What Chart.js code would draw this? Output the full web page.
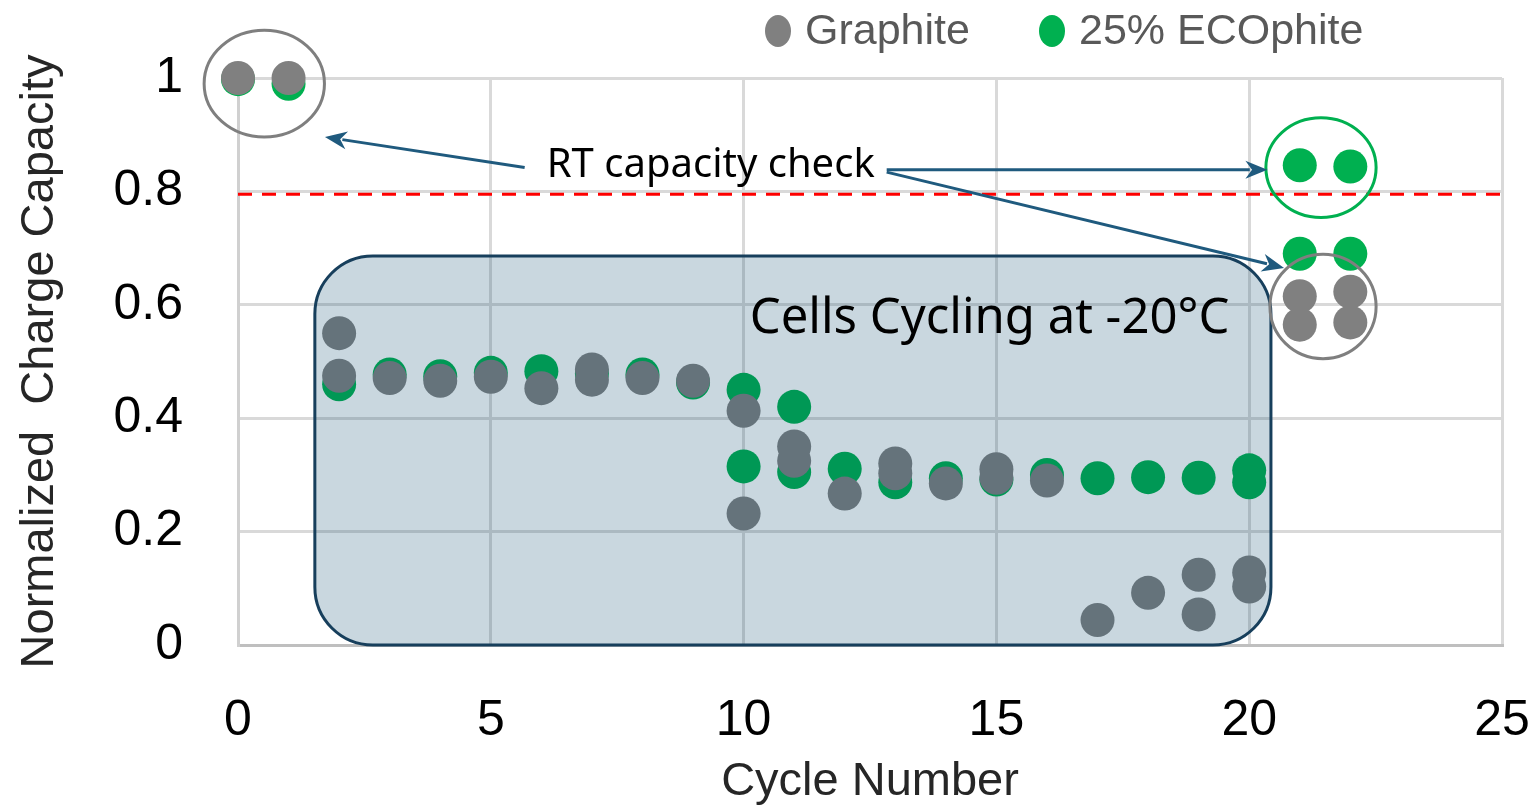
<!DOCTYPE html>
<html>
<head>
<meta charset="utf-8">
<script src="https://cdn.jsdelivr.net/npm/chart.js@4.4.1/dist/chart.umd.min.js"></script>
<style>
  html, body { margin: 0; padding: 0; background: #fff; overflow: hidden; }
  #wrap { width: 1540px; height: 814px; position: relative; }
</style>
</head>
<body>
<div id="wrap"><canvas id="capChart"></canvas></div>
<script>
// cycle number / normalized charge capacity
const graphiteCycle = [0, 1, 2, 2, 3, 4, 5, 6, 7, 7, 8, 9, 10, 10, 11, 11, 12, 13, 13, 14, 15, 15, 16, 17, 18, 19, 19, 20, 20, 21, 21, 22, 22];
const graphiteCap = [1.0, 1.0, 0.55, 0.475, 0.471, 0.466, 0.473, 0.453, 0.486, 0.468, 0.471, 0.466, 0.413, 0.232, 0.35, 0.325, 0.267, 0.32, 0.303, 0.285, 0.31, 0.295, 0.29, 0.044, 0.092, 0.124, 0.054, 0.128, 0.103, 0.615, 0.565, 0.623, 0.569];

const ecoCycle = [0, 1, 2, 3, 4, 5, 6, 7, 8, 9, 10, 10, 11, 11, 12, 13, 14, 15, 16, 17, 18, 19, 20, 20, 21, 21, 22, 22];
const ecoCap = [0.998, 0.99, 0.46, 0.477, 0.474, 0.48, 0.483, 0.479, 0.477, 0.463, 0.45, 0.315, 0.42, 0.305, 0.311, 0.287, 0.294, 0.292, 0.30, 0.294, 0.296, 0.295, 0.308, 0.287, 0.846, 0.69, 0.844, 0.69];

const seriesNames = ['Graphite', '25% ECOphite'];
const limitValue = 0.795;

const toPoints = (xs, ys) => xs.map((c, i) => ({ x: c, y: ys[i] }));

// annotations: red limit line, shaded box, circles, arrows, notes, legend
const annotate = {
    id: 'annotate',
    afterDatasetsDraw(chart) {
        const { ctx, chartArea, scales: { x, y } } = chart;
        const px = v => x.getPixelForValue(v);
        const py = v => y.getPixelForValue(v);
        ctx.save();

        // 80% line
        ctx.strokeStyle = '#ff0000';
        ctx.lineWidth = 3;
        ctx.setLineDash([14, 10]);
        ctx.beginPath();
        ctx.moveTo(chartArea.left, py(limitValue));
        ctx.lineTo(chartArea.right, py(limitValue));
        ctx.stroke();
        ctx.setLineDash([]);

        // cold cycling box
        const bx0 = px(1.52), bx1 = px(20.43), by0 = py(0.686), by1 = py(0);
        ctx.beginPath();
        ctx.roundRect(bx0, by0, bx1 - bx0, by1 - by0, 58);
        ctx.fillStyle = 'rgba(0, 65, 105, 0.21)';
        ctx.fill();
        ctx.strokeStyle = '#173f5c';
        ctx.lineWidth = 3;
        ctx.stroke();

        ctx.fillStyle = '#000';
        ctx.font = '49px "Noto Sans"';
        ctx.textBaseline = 'middle';
        ctx.textAlign = 'left';
        ctx.fillText('Cells Cycling at -20°C', px(10.12), py(0.575));

        // circles
        const ring = (cx, cy, rx, ry, color) => {
            ctx.beginPath();
            ctx.ellipse(px(cx), py(cy), px(cx + rx) - px(cx), py(cy) - py(cy + ry), 0, 0, Math.PI * 2);
            ctx.strokeStyle = color;
            ctx.lineWidth = 3;
            ctx.stroke();
        };
        ring(0.52, 0.99, 1.19, 0.094, '#7f7f7f');
        ring(21.42, 0.842, 1.09, 0.088, '#00b050');
        ring(21.46, 0.597, 1.05, 0.092, '#7f7f7f');

        // arrows
        const arrow = (x0, y0, x1, y1) => {
            const ax = px(x0), ay = py(y0), bx = px(x1), by = py(y1);
            const ang = Math.atan2(by - ay, bx - ax);
            const head = 22, half = 9;
            ctx.strokeStyle = '#1f5a7e';
            ctx.fillStyle = '#1f5a7e';
            ctx.lineWidth = 3;
            ctx.beginPath();
            ctx.moveTo(ax, ay);
            ctx.lineTo(bx - Math.cos(ang) * head * 0.8, by - Math.sin(ang) * head * 0.8);
            ctx.stroke();
            ctx.beginPath();
            ctx.moveTo(bx, by);
            ctx.lineTo(bx - Math.cos(ang) * head - Math.sin(ang) * half, by - Math.sin(ang) * head + Math.cos(ang) * half);
            ctx.lineTo(bx - Math.cos(ang) * head * 0.7, by - Math.sin(ang) * head * 0.7);
            ctx.lineTo(bx - Math.cos(ang) * head + Math.sin(ang) * half, by - Math.sin(ang) * head - Math.cos(ang) * half);
            ctx.closePath();
            ctx.fill();
        };
        arrow(5.67, 0.842, 1.72, 0.896);
        arrow(12.83, 0.838, 20.36, 0.838);
        arrow(12.83, 0.834, 20.69, 0.665);

        ctx.fillStyle = '#000';
        ctx.font = '40px "Noto Sans"';
        ctx.textAlign = 'center';
        ctx.fillText('RT capacity check', px(9.35), py(0.845));

        ctx.restore();
    },
    afterDraw(chart) {
        // legend drawn by hand so it can sit right of centre
        const { ctx } = chart;
        const spots = [778, 1052];
        ctx.save();
        ctx.font = '43px "Liberation Sans"';
        ctx.textBaseline = 'middle';
        ctx.textAlign = 'left';
        chart.data.datasets.forEach((ds, i) => {
            ctx.fillStyle = ds.backgroundColor;
            ctx.beginPath();
            ctx.ellipse(spots[i], 31, 13, 16, 0, 0, Math.PI * 2);
            ctx.fill();
            ctx.fillStyle = '#595959';
            ctx.fillText(ds.label, spots[i] + 27, 32);
        });
        ctx.restore();
    }
};

new Chart(document.getElementById('capChart'), {
    type: 'scatter',
    data: {
        datasets: [{
            label: seriesNames[0],
            data: toPoints(graphiteCycle, graphiteCap),
            backgroundColor: '#808080',
            borderWidth: 0,
            pointRadius: 17,
            pointHoverRadius: 17,
            clip: false
        }, {
            label: seriesNames[1],
            data: toPoints(ecoCycle, ecoCap),
            backgroundColor: '#00b050',
            borderWidth: 0,
            pointRadius: 17,
            pointHoverRadius: 17,
            clip: false
        }]
    },
    options: {
        responsive: true,
        maintainAspectRatio: false,
        animation: false,
        layout: { padding: { top: 78, left: 8, right: 38, bottom: 0 } },
        plugins: {
            legend: { display: false },
            tooltip: { enabled: false }
        },
        scales: {
            x: {
                type: 'linear',
                min: 0,
                max: 25,
                ticks: { stepSize: 5, padding: 46, color: '#000', font: { family: 'Liberation Sans', size: 50 } },
                grid: { color: '#d9d9d9', lineWidth: 3, drawTicks: false },
                border: { display: true, color: '#bfbfbf', width: 3 },
                title: { display: true, text: 'Cycle Number', color: '#262626', font: { family: 'Liberation Sans', size: 47 } },
                afterFit: s => { s.height = 169; s.paddingLeft = 0; s.paddingRight = 0; }
            },
            y: {
                min: 0,
                max: 1,
                ticks: { stepSize: 0.2, padding: 55, color: '#000', font: { family: 'Liberation Sans', size: 50 },
                    callback: v => +v.toFixed(1) },
                grid: { color: '#d9d9d9', lineWidth: 3, drawTicks: false },
                border: { display: true, color: '#d0d0d0', width: 3 },
                title: { display: true, text: 'Normalized  Charge Capacity', color: '#262626', font: { family: 'Liberation Sans', size: 47 } },
                afterFit: s => { s.width = 230; s.paddingTop = 0; s.paddingBottom = 0; }
            }
        }
    },
    plugins: [annotate]
});
</script>
</body>
</html>
